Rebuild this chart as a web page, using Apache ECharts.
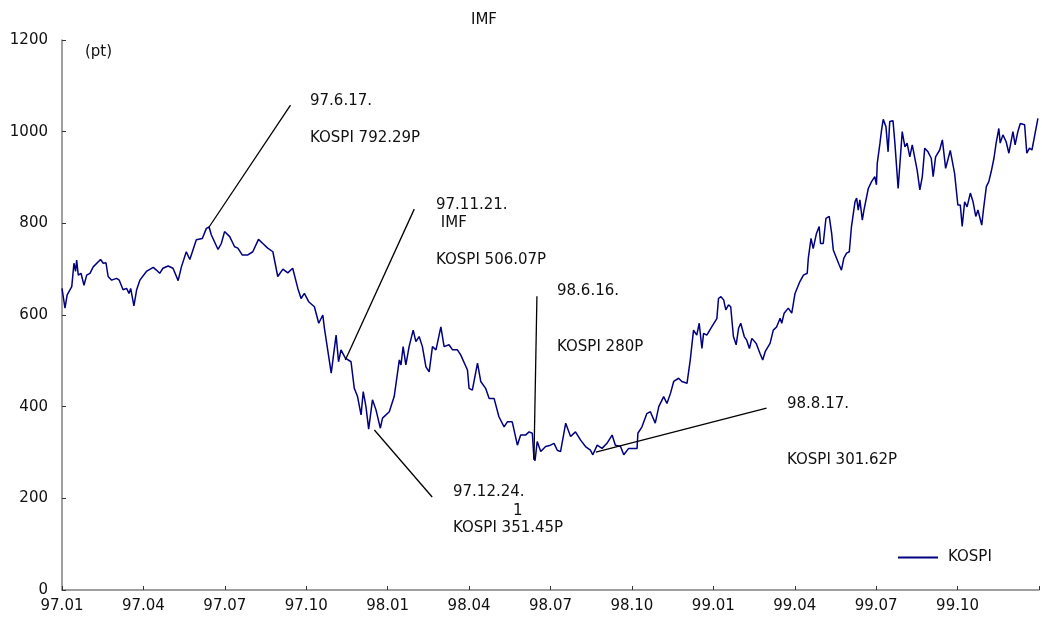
<!DOCTYPE html>
<html>
<head>
<meta charset="utf-8">
<script src="https://cdn.jsdelivr.net/npm/echarts@6/dist/echarts.min.js"></script>
<style>
html,body{margin:0;padding:0;background:#fff;}
#chart{width:1042px;height:621px;}
</style>
</head>
<body>
<div id="chart"></div>
<script>
// months elapsed since 97.01 (x position in months)
const monthPos = [0.00,0.11,0.19,0.36,0.44,0.50,0.54,0.60,0.70,0.81,0.91,1.03,1.15,1.42,1.52,1.62,1.70,1.83,2.01,2.11,2.25,2.38,2.47,2.53,2.65,2.75,2.87,3.11,3.36,3.48,3.60,3.72,3.91,4.09,4.28,4.40,4.58,4.71,4.95,5.17,5.32,5.42,5.50,5.75,5.87,5.99,6.18,6.36,6.48,6.64,6.85,7.03,7.24,7.40,7.58,7.77,7.95,8.14,8.32,8.50,8.69,8.81,8.93,9.09,9.30,9.46,9.61,9.67,9.92,10.10,10.19,10.28,10.44,10.65,10.77,10.89,11.02,11.10,11.20,11.30,11.44,11.57,11.73,11.81,12.06,12.24,12.43,12.49,12.57,12.67,12.79,12.94,13.04,13.16,13.28,13.41,13.53,13.65,13.78,13.96,14.08,14.26,14.39,14.57,14.69,14.94,15.00,15.12,15.31,15.43,15.61,15.74,15.92,16.10,16.29,16.41,16.59,16.78,16.90,17.08,17.21,17.33,17.39,17.43,17.51,17.64,17.82,18.00,18.13,18.25,18.37,18.56,18.74,18.92,19.11,19.29,19.47,19.56,19.72,19.90,20.08,20.27,20.39,20.58,20.70,20.88,21.19,21.22,21.37,21.55,21.68,21.86,21.99,22.17,22.29,22.42,22.54,22.72,22.84,23.03,23.15,23.27,23.39,23.48,23.58,23.64,23.76,23.94,24.13,24.19,24.28,24.38,24.46,24.56,24.64,24.74,24.84,24.93,25.01,25.14,25.23,25.33,25.42,25.58,25.72,25.82,25.91,26.09,26.21,26.33,26.46,26.52,26.61,26.76,26.89,27.01,27.19,27.32,27.46,27.50,27.60,27.68,27.80,27.90,27.95,28.05,28.15,28.27,28.36,28.42,28.54,28.64,28.72,28.81,28.91,29.01,29.09,29.22,29.28,29.34,29.40,29.49,29.55,29.71,29.83,29.95,30.01,30.04,30.14,30.20,30.26,30.36,30.44,30.50,30.62,30.69,30.81,30.96,31.06,31.14,31.24,31.33,31.51,31.61,31.70,31.79,31.91,32.03,32.10,32.19,32.34,32.44,32.56,32.73,32.89,33.01,33.10,33.17,33.26,33.35,33.47,33.57,33.67,33.75,33.89,33.96,34.06,34.15,34.24,34.34,34.42,34.52,34.57,34.67,34.79,34.89,35.04,35.12,35.22,35.31,35.47,35.55,35.65,35.74,35.96];
const kospi = [658,615,644,662,713,695,720,687,691,665,687,691,705,721,713,714,684,676,680,676,655,658,647,658,620,655,676,695,704,698,691,702,707,702,675,705,738,721,764,767,789,792,775,743,756,782,771,749,746,731,731,738,765,756,746,738,684,700,692,702,658,636,647,629,618,582,600,571,473,556,498,524,506,498,440,422,382,433,400,351,415,393,353,375,389,422,502,491,531,491,531,567,542,553,531,487,476,531,524,574,531,535,524,524,513,480,440,436,495,455,440,418,418,378,356,367,367,316,338,338,345,342,287,282,324,302,313,316,320,305,302,364,335,345,327,313,305,295,316,309,320,338,316,313,295,309,309,342,356,385,389,364,400,422,407,429,455,462,455,451,502,567,556,582,527,560,556,574,592,636,640,633,611,622,618,553,535,571,582,553,545,527,549,538,516,502,520,538,567,574,593,582,604,615,604,647,673,687,691,724,767,745,778,793,756,756,811,815,778,742,724,709,698,724,735,738,793,847,855,829,851,807,829,876,891,902,884,931,975,1004,1027,1011,956,1022,1024,975,876,1000,967,975,945,971,916,873,902,964,956,942,902,945,960,982,920,959,909,840,840,793,847,836,866,847,815,829,796,833,880,891,913,942,975,1007,975,993,978,953,1000,971,1000,1018,1015,953,964,960,1029];

const tickLabels = ['97.01','97.04','97.07','97.10','98.01','98.04','98.07','98.10','99.01','99.04','99.07','99.10'];
const yTicks = [0,200,400,600,800,1000,1200];

// annotation leader lines: [from month, from value] -> [to month, to value]
const leaderFrom = [[5.42,792],[10.44,502],[11.51,349],[17.39,284],[19.67,301]];
const leaderTo   = [[8.42,1058],[12.98,831],[13.64,203],[17.50,641],[25.96,397]];

const noteTexts = ['97.6.17.','KOSPI 792.29P','97.11.21.',' IMF','KOSPI 506.07P','98.6.16.','KOSPI 280P','98.8.17.','KOSPI 301.62P','97.12.24.','1','KOSPI 351.45P'];
const noteLeft = [310,310,436,436,436,557,557,787,787,453,513,453];
const noteTop  = [94,131,198,216,253,284,340,397,453,485,504,521];

const FONT = '"DejaVu Sans", sans-serif';
const chart = echarts.init(document.getElementById('chart'));
const data = monthPos.map((m,i)=>[m,kospi[i]]);

const graphics = noteTexts.map((t,i)=>({
  type:'text', left:noteLeft[i], top:noteTop[i], silent:true,
  style:{text:t, fill:'#111', font:'15px ' + FONT}
}));
graphics.push({type:'text', left:85, top:45, silent:true, style:{text:'(pt)', fill:'#111', font:'15px '+FONT}});

chart.setOption({
  animation:false,
  title:{text:'IMF', left:466, top:8, textStyle:{fontFamily:FONT, fontSize:15, fontWeight:'normal', color:'#111'}},
  grid:{left:62, right:0, top:40, bottom:31, containLabel:false},
  legend:{data:['KOSPI'], left:893, top:545, icon:'rect', itemWidth:40, itemHeight:2, itemGap:5,
    textStyle:{fontFamily:FONT, fontSize:15, color:'#111', padding:[0,0,0,5]}},
  xAxis:{type:'value', min:0, max:36, interval:3,
    axisLine:{lineStyle:{color:'#808080', width:1.5}},
    axisTick:{inside:true, length:4, lineStyle:{color:'#333'}},
    splitLine:{show:false},
    axisLabel:{color:'#111', fontFamily:FONT, fontSize:15, margin:9,
      formatter:(v)=>{const i=Math.round(v/3); return i<tickLabels.length? tickLabels[i] : '';}}},
  yAxis:{type:'value', min:yTicks[0], max:yTicks[yTicks.length-1], interval:200,
    axisLine:{show:true, lineStyle:{color:'#808080', width:1.5}},
    axisTick:{show:true, inside:true, length:4, lineStyle:{color:'#333'}},
    splitLine:{show:false},
    axisLabel:{color:'#111', fontFamily:FONT, fontSize:15, margin:14, formatter:(v)=>String(v)}},
  series:[{
    name:'KOSPI', type:'line', data:data, symbol:'none', showSymbol:false,
    lineStyle:{color:'#000080', width:1.5}, itemStyle:{color:'#000080'},
    markLine:{silent:true, symbol:['none','none'], animation:false,
      label:{show:false},
      lineStyle:{color:'#000', width:1.3, type:'solid'},
      data: leaderFrom.map((f,i)=>[{coord:f},{coord:leaderTo[i]}])}
  }],
  graphic:graphics
});
</script>
</body>
</html>
